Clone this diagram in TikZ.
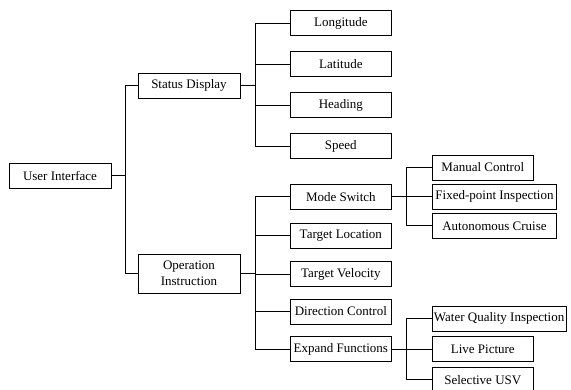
\documentclass[tikz,border=0pt]{standalone}
\usepackage{fontspec}
\setmainfont{Liberation Serif}
\begin{document}
\begin{tikzpicture}[x=1pt,y=-1pt,
  box/.style={draw=black, line width=0.9pt, inner sep=0pt, minimum height=24.6pt, font=\fontsize{13}{15.5}\selectfont, align=center},
  conn/.style={draw=black, line width=0.9pt}]
\useasboundingbox (0,0) rectangle (571,389);
\node[box, minimum width=102pt, minimum height=25pt] (ui) at (60,175.5) {User Interface};
\node[box, minimum width=102pt, minimum height=25pt] (sd) at (189,85.5) {Status Display};
\node[box, minimum width=102pt, minimum height=39pt] (op) at (189,273.5) {Operation\\Instruction};
\node[box, minimum width=101.7pt] (lon) at (340.85,23) {Longitude};
\node[box, minimum width=101.7pt] (lat) at (340.85,64) {Latitude};
\node[box, minimum width=101.7pt] (hea) at (340.85,105) {Heading};
\node[box, minimum width=101.7pt] (spd) at (340.85,146) {Speed};
\node[box, minimum width=101.7pt, minimum height=25.3pt] (ms) at (340.85,196.7) {Mode Switch};
\node[box, minimum width=101.7pt, minimum height=25pt] (tl) at (340.85,235.8) {Target Location};
\node[box, minimum width=101.7pt, minimum height=25pt] (tv) at (340.85,274.2) {Target Velocity};
\node[box, minimum width=101.7pt, minimum height=25pt] (dc) at (340.85,311.5) {Direction Control};
\node[box, minimum width=101.7pt, minimum height=25pt] (ef) at (340.85,349.2) {Expand Functions};
\node[box, minimum width=101pt, minimum height=25pt] (mc) at (482.8,167.5) {Manual Control};
\node[box, minimum width=124.4pt, minimum height=25.3pt] (fp) at (494.5,196.7) {Fixed-point Inspection};
\node[box, minimum width=124.4pt, minimum height=25pt] (ac) at (494.5,225.8) {Autonomous Cruise};
\node[box, minimum width=133.7pt, minimum height=25pt] (wq) at (499.15,318.5) {Water Quality Inspection};
\node[box, minimum width=101pt, minimum height=25pt] (lp) at (482.8,349.2) {Live Picture};
\node[box, minimum width=101pt, minimum height=25pt] (su) at (482.8,379.7) {Selective USV};
\coordinate (t1) at (125.7,0);
\coordinate (t2) at (255,0);
\coordinate (t3) at (406.7,0);
\draw[conn] (ui.east) -- (ui.east -| t1) |- (sd.west);
\draw[conn] (ui.east -| t1) |- (op.west);
\draw[conn] (sd.east) -- (sd.east -| t2);
\draw[conn] (lon.west) -| (t2 |- spd.west) -- (spd.west);
\draw[conn] (lat.west) -- (lat.west -| t2);
\draw[conn] (hea.west) -- (hea.west -| t2);
\draw[conn] (op.east) -- (op.east -| t2);
\draw[conn] (ms.west) -| (t2 |- ef.west) -- (ef.west);
\draw[conn] (tl.west) -- (tl.west -| t2);
\draw[conn] (tv.west) -- (tv.west -| t2);
\draw[conn] (dc.west) -- (dc.west -| t2);
\draw[conn] (ms.east) -- (fp.west);
\draw[conn] (mc.west) -| (t3 |- ac.west) -- (ac.west);
\draw[conn] (ef.east) -- (lp.west);
\draw[conn] (wq.west) -| (t3 |- su.west) -- (su.west);
\end{tikzpicture}
\end{document}
